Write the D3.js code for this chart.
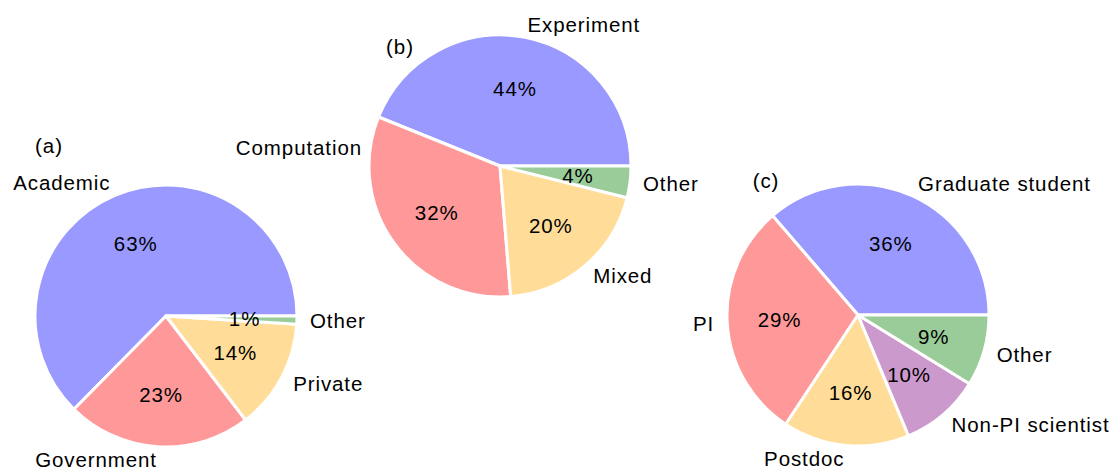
<html>
<head>
  <meta charset="utf-8">
  <title>pies</title>
  <style>
    body { margin: 0; background: #fff; }
    text { font-family: "Liberation Sans", Arial, Helvetica, sans-serif; fill: #000; letter-spacing: 0.9px; }
  </style>
</head>
<body>
<script src="https://cdn.jsdelivr.net/npm/d3@7/dist/d3.min.js"></script>
<script>
  // (a) employer
  var labelsA = ["Academic", "Government", "Private", "Other"];
  var valuesA = [62.6, 22.8, 13.6, 1.0];
  // (b) research type
  var labelsB = ["Experiment", "Computation", "Mixed", "Other"];
  var valuesB = [43.9, 32.4, 19.8, 3.9];
  // (c) position
  var labelsC = ["Graduate student", "PI", "Postdoc", "Non-PI scientist", "Other"];
  var valuesC = [36.3, 29.4, 15.6, 9.9, 8.8];

  var colors = ["#9999ff", "#ff9999", "#ffdd99", "#99cc99"];
  var colorsC = ["#9999ff", "#ff9999", "#ffdd99", "#cc99cc", "#99cc99"];

  var width = 1111, height = 468;
  var svg = d3.select("body").append("svg")
      .attr("width", width)
      .attr("height", height);

  var r = 131;
  var fs = 20.5;

  // matplotlib style: start at 3 o'clock, go counter-clockwise
  var pie = d3.pie().sort(null)
      .startAngle(Math.PI / 2)
      .endAngle(Math.PI / 2 - 2 * Math.PI);

  // moved: label index -> [x, y] relative to the pie centre
  function drawPie(cx, cy, labels, values, cols, tag, tagX, tagY, moved) {
    moved = moved || {};
    var g = svg.append("g").attr("transform", "translate(" + cx + "," + cy + ")");
    var arcs = pie(values);
    var arc = d3.arc().innerRadius(0).outerRadius(r);
    var pctArc = d3.arc().innerRadius(r * 0.6).outerRadius(r * 0.6);
    var lblArc = d3.arc().innerRadius(r * 1.1).outerRadius(r * 1.1);

    function lblPos(d, i) {
      return moved[i] ? moved[i] : lblArc.centroid(d);
    }

    g.selectAll("path")
      .data(arcs)
      .enter()
      .append("path")
      .attr("d", arc)
      .attr("fill", function(d, i) { return cols[i]; })
      .attr("stroke", "#fff")
      .attr("stroke-width", 3)
      .attr("stroke-linejoin", "round");

    g.selectAll("text.pct")
      .data(arcs)
      .enter()
      .append("text")
      .attr("class", "pct")
      .attr("x", function(d) { return pctArc.centroid(d)[0]; })
      .attr("y", function(d) { return pctArc.centroid(d)[1]; })
      .attr("dy", "0.35em")
      .attr("text-anchor", "middle")
      .style("font-size", fs + "px")
      .text(function(d) { return Math.round(d.value) + "%"; });

    g.selectAll("text.lbl")
      .data(arcs)
      .enter()
      .append("text")
      .attr("class", "lbl")
      .attr("x", function(d, i) { return lblPos(d, i)[0]; })
      .attr("y", function(d, i) { return lblPos(d, i)[1]; })
      .attr("dy", "0.35em")
      .attr("text-anchor", function(d, i) { return lblPos(d, i)[0] < 0 ? "end" : "start"; })
      .style("font-size", fs + "px")
      .text(function(d, i) { return labels[i]; });

    svg.append("text")
      .attr("x", tagX)
      .attr("y", tagY)
      .attr("dy", "0.35em")
      .attr("text-anchor", "middle")
      .style("font-size", fs + "px")
      .text(tag);
  }

  drawPie(166, 316, labelsA, valuesA, colors, "(a)", 49, 146);
  // Computation label was shifted up to keep clear of pie (a)
  drawPie(500, 166, labelsB, valuesB, colors, "(b)", 400, 47, {1: [-138, -18]});
  drawPie(858, 315, labelsC, valuesC, colorsC, "(c)", 766, 181);
</script>
</body>
</html>
